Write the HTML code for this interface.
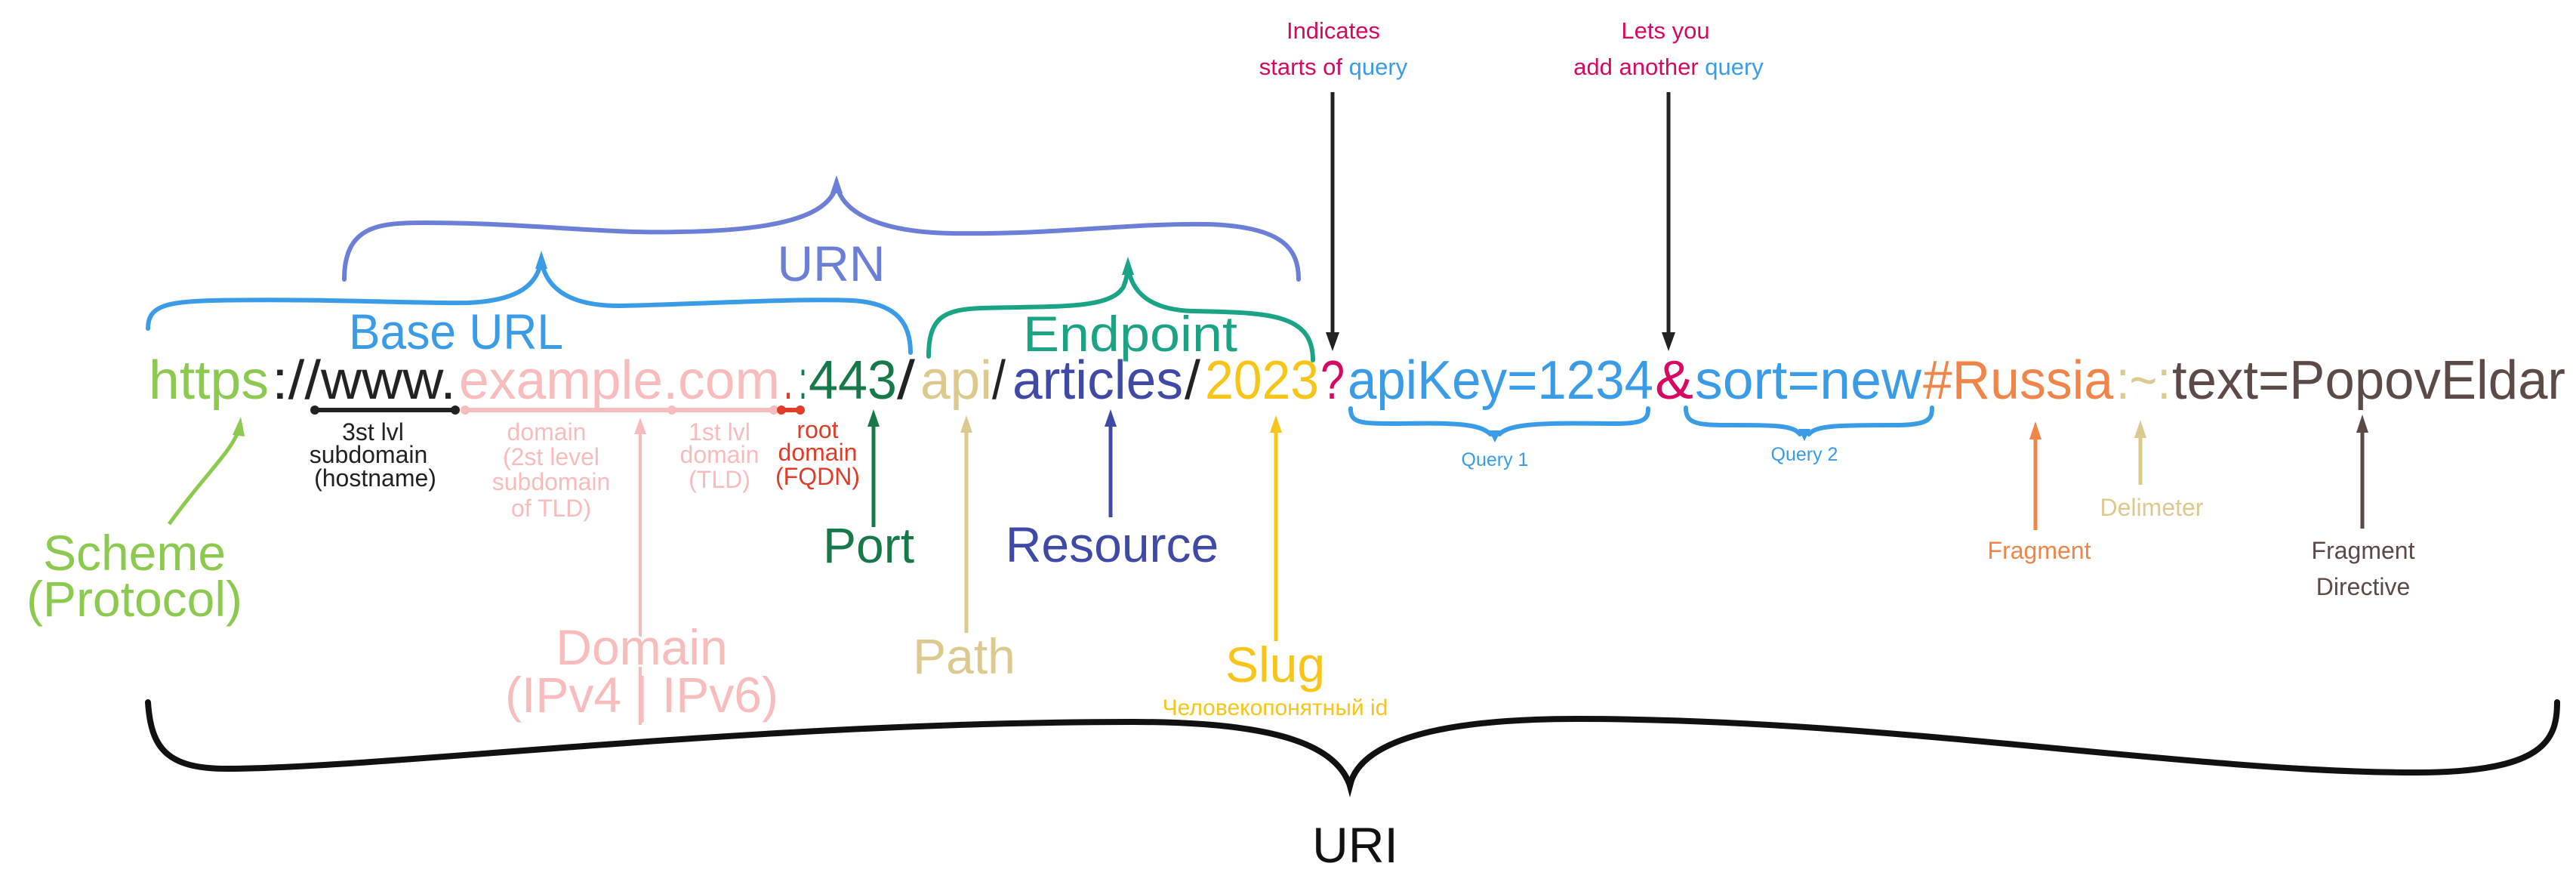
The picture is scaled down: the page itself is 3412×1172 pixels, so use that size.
<!DOCTYPE html>
<html><head><meta charset="utf-8"><style>
html,body{margin:0;padding:0;background:#fff;}
svg{display:block;}
text{font-family:"Liberation Sans","Noto Sans CJK SC",sans-serif;}
</style></head><body>
<svg width="3412" height="1172" viewBox="0 0 3412 1172" xmlns="http://www.w3.org/2000/svg">
<rect width="3412" height="1172" fill="#fff"/>

<!-- Main URL line -->
<g font-size="72" lengthAdjust="spacingAndGlyphs">
<text x="197" y="528" textLength="159" lengthAdjust="spacingAndGlyphs" fill="#8bc94f">https</text>
<text x="360" y="528" textLength="65" lengthAdjust="spacingAndGlyphs" fill="#222">://</text>
<text x="425" y="528" textLength="179" lengthAdjust="spacingAndGlyphs" fill="#222">www.</text>
<text x="608" y="528" textLength="425" lengthAdjust="spacingAndGlyphs" fill="#f8bcbc">example.com</text>
<text x="1038" y="528" textLength="12" lengthAdjust="spacingAndGlyphs" fill="#e03c28">.</text>
<text x="1058" y="528" textLength="11" lengthAdjust="spacingAndGlyphs" fill="#17794a">:</text>
<text x="1071" y="528" textLength="117" lengthAdjust="spacingAndGlyphs" fill="#17794a">443</text>
<text x="1188" y="528" textLength="24" lengthAdjust="spacingAndGlyphs" fill="#222">/</text>
<text x="1219" y="528" textLength="95" lengthAdjust="spacingAndGlyphs" fill="#ddc88e">api</text>
<text x="1314" y="528" textLength="18" lengthAdjust="spacingAndGlyphs" fill="#222">/</text>
<text x="1341" y="528" textLength="226" lengthAdjust="spacingAndGlyphs" fill="#3f4aa6">articles</text>
<text x="1569" y="528" textLength="21" lengthAdjust="spacingAndGlyphs" fill="#222">/</text>
<text x="1596" y="528" textLength="151" lengthAdjust="spacingAndGlyphs" fill="#f7c518">2023</text>
<text x="1749" y="528" textLength="32" lengthAdjust="spacingAndGlyphs" fill="#d6085f">?</text>
<text x="1785" y="528" textLength="405" lengthAdjust="spacingAndGlyphs" fill="#3a9ce6">apiKey=1234</text>
<text x="2192" y="528" textLength="51" lengthAdjust="spacingAndGlyphs" fill="#d6085f">&amp;</text>
<text x="2245" y="528" textLength="300" lengthAdjust="spacingAndGlyphs" fill="#3a9ce6">sort=new</text>
<text x="2547" y="528" textLength="252" lengthAdjust="spacingAndGlyphs" fill="#ef8548">#Russia</text>
<text x="2803" y="528" textLength="72" lengthAdjust="spacingAndGlyphs" fill="#ddc88e">:~:</text>
<text x="2877" y="528" textLength="521" lengthAdjust="spacingAndGlyphs" fill="#5c4a47">text=PopovEldar</text>
</g>

<!-- URN brace -->
<g fill="none" stroke="#6b7fd7" stroke-width="6" stroke-linecap="round">
<path d="M456 370 C456 300 500 295 560 295 C700 295 800 310 900 307 C1050 305 1100 280 1108 245 C1116 280 1160 307 1260 309 C1400 311 1500 295 1600 297 C1700 300 1720 330 1720 370"/>
</g>
<polygon points="1108,232 1100,256 1116,256" fill="#6b7fd7"/>
<text x="1101" y="372" font-size="66" fill="#6b7fd7" text-anchor="middle">URN</text>

<!-- Base URL brace -->
<g fill="none" stroke="#3a9ce6" stroke-width="6" stroke-linecap="round">
<path d="M196 435 C196 405 220 400 280 398 C420 395 550 402 620 401 C690 398 712 375 717 345 C722 375 745 405 820 405 C950 402 1050 395 1130 398 C1190 402 1206 430 1206 467"/>
</g>
<polygon points="717,332 709,356 725,356" fill="#3a9ce6"/>
<text x="604" y="462" font-size="66" fill="#3a9ce6" text-anchor="middle" textLength="284" lengthAdjust="spacingAndGlyphs">Base URL</text>

<!-- Endpoint brace -->
<g fill="none" stroke="#1aa385" stroke-width="6" stroke-linecap="round">
<path d="M1230 472 C1230 420 1250 410 1300 408 C1400 405 1470 410 1488 380 C1492 370 1494 360 1494 350 C1496 375 1510 410 1580 412 C1680 414 1739 415 1739 477"/>
</g>
<polygon points="1494,340 1486,364 1502,364" fill="#1aa385"/>
<text x="1497" y="465" font-size="66" fill="#1aa385" text-anchor="middle" textLength="284" lengthAdjust="spacingAndGlyphs">Endpoint</text>

<!-- Top query labels + arrows -->
<g font-size="31" text-anchor="middle">
<text x="1766" y="51" fill="#d6085f">Indicates</text>
<text x="1766" y="99"><tspan fill="#d6085f">starts of </tspan><tspan fill="#3a9ce6">query</tspan></text>
<text x="2206" y="51" fill="#d6085f">Lets you</text>
<text x="2210" y="99"><tspan fill="#d6085f">add another </tspan><tspan fill="#3a9ce6">query</tspan></text>
</g>
<line x1="1765" y1="122" x2="1765" y2="445" stroke="#222" stroke-width="5"/>
<polygon points="1765,465 1756,440 1774,440" fill="#222"/>
<line x1="2210" y1="122" x2="2210" y2="445" stroke="#222" stroke-width="5"/>
<polygon points="2210,465 2201,440 2219,440" fill="#222"/>

<!-- Domain underlines -->
<line x1="417" y1="543" x2="603" y2="543" stroke="#222" stroke-width="6"/>
<circle cx="417" cy="543" r="6" fill="#222"/><circle cx="603" cy="543" r="6" fill="#222"/>
<line x1="616" y1="543" x2="1025" y2="543" stroke="#f8bcbc" stroke-width="6"/>
<circle cx="616" cy="543" r="6" fill="#f8bcbc"/><circle cx="890" cy="543" r="6" fill="#f8bcbc"/><circle cx="1025" cy="543" r="6" fill="#f8bcbc"/>
<line x1="1035" y1="543" x2="1060" y2="543" stroke="#e03c28" stroke-width="6"/>
<circle cx="1035" cy="543" r="6" fill="#e03c28"/><circle cx="1060" cy="543" r="6" fill="#e03c28"/>

<g font-size="32" text-anchor="middle">
<text x="494" y="583" fill="#222">3st lvl</text>
<text x="488" y="613" fill="#222">subdomain</text>
<text x="497" y="644" fill="#222">(hostname)</text>
<text x="724" y="583" fill="#f8bcbc">domain</text>
<text x="730" y="616" fill="#f8bcbc">(2st level</text>
<text x="730" y="649" fill="#f8bcbc">subdomain</text>
<text x="730" y="684" fill="#f8bcbc">of TLD)</text>
<text x="953" y="583" fill="#f8bcbc">1st lvl</text>
<text x="953" y="613" fill="#f8bcbc">domain</text>
<text x="953" y="646" fill="#f8bcbc">(TLD)</text>
<text x="1083" y="580" fill="#e03c28">root</text>
<text x="1083" y="610" fill="#e03c28">domain</text>
<text x="1083" y="642" fill="#e03c28">(FQDN)</text>
</g>

<!-- Scheme -->
<path d="M224 694 C270 630 305 600 316 570" fill="none" stroke="#8bc94f" stroke-width="5"/>
<polygon points="319,552 308,576 324,578" fill="#8bc94f"/>
<g font-size="66" text-anchor="middle" fill="#8bc94f">
<text x="178" y="755">Scheme</text>
<text x="178" y="816">(Protocol)</text>
</g>

<!-- Domain -->
<line x1="848" y1="570" x2="848" y2="960" stroke="#f8bcbc" stroke-width="4"/>
<polygon points="848,553 840,575 856,575" fill="#f8bcbc"/>
<g font-size="66" text-anchor="middle" fill="#f8bcbc">
<text x="850" y="880" stroke="#fff" stroke-width="6" paint-order="stroke">Domain</text>
<text x="850" y="943">(IPv4 | IPv6)</text>
</g>

<!-- Port -->
<line x1="1157" y1="560" x2="1157" y2="698" stroke="#17794a" stroke-width="5"/>
<polygon points="1157,542 1149,565 1165,565" fill="#17794a"/>
<text x="1090" y="745" font-size="66" fill="#17794a">Port</text>

<!-- Path -->
<line x1="1280" y1="568" x2="1280" y2="838" stroke="#ddc88e" stroke-width="5"/>
<polygon points="1280,550 1272,573 1288,573" fill="#ddc88e"/>
<text x="1277" y="892" font-size="66" fill="#ddc88e" text-anchor="middle">Path</text>

<!-- Resource -->
<line x1="1471" y1="560" x2="1471" y2="685" stroke="#3f4aa6" stroke-width="5"/>
<polygon points="1471,542 1463,565 1479,565" fill="#3f4aa6"/>
<text x="1473" y="744" font-size="66" fill="#3f4aa6" text-anchor="middle">Resource</text>

<!-- Slug -->
<line x1="1690" y1="568" x2="1690" y2="849" stroke="#f7c518" stroke-width="5"/>
<polygon points="1690,550 1682,573 1698,573" fill="#f7c518"/>
<text x="1689" y="903" font-size="66" fill="#f7c518" text-anchor="middle">Slug</text>
<text x="1689" y="947" font-size="30" fill="#f7c518" text-anchor="middle">Человекопонятный id</text>

<!-- Query braces -->
<g fill="none" stroke="#3a9ce6" stroke-width="6" stroke-linecap="round">
<path d="M1789 541 C1789 560 1800 561 1850 561 C1920 560 1960 560 1974 575 M1986 575 C2000 560 2050 560 2140 561 C2178 561 2183 555 2183 541"/>
<path d="M2233 540 C2233 560 2245 563 2290 563 C2350 563 2375 563 2384 575 M2396 575 C2405 563 2440 563 2510 563 C2555 563 2559 555 2559 540"/>
</g>
<polygon points="1972,570 1988,570 1980,586" fill="#3a9ce6"/>
<polygon points="2382,568 2398,568 2390,584" fill="#3a9ce6"/>
<text x="1980" y="617" font-size="25" fill="#3a9ce6" text-anchor="middle">Query 1</text>
<text x="2390" y="610" font-size="25" fill="#3a9ce6" text-anchor="middle">Query 2</text>

<!-- Fragment -->
<line x1="2696" y1="578" x2="2696" y2="702" stroke="#ef8548" stroke-width="5"/>
<polygon points="2696,558 2688,582 2704,582" fill="#ef8548"/>
<text x="2701" y="740" font-size="32" fill="#ef8548" text-anchor="middle">Fragment</text>
<!-- Delimeter -->
<line x1="2835" y1="575" x2="2835" y2="642" stroke="#ddc88e" stroke-width="5"/>
<polygon points="2835,556 2827,580 2843,580" fill="#ddc88e"/>
<text x="2850" y="683" font-size="32" fill="#ddc88e" text-anchor="middle">Delimeter</text>
<!-- Fragment Directive -->
<line x1="3129" y1="568" x2="3129" y2="700" stroke="#5c4a47" stroke-width="5"/>
<polygon points="3129,549 3121,573 3137,573" fill="#5c4a47"/>
<text x="3130" y="740" font-size="32" fill="#5c4a47" text-anchor="middle">Fragment</text>
<text x="3130" y="788" font-size="32" fill="#5c4a47" text-anchor="middle">Directive</text>

<!-- URI brace -->
<g fill="none" stroke="#111" stroke-linecap="round">
<path d="M196 930 C200 990 220 1018 300 1018 C500 1018 1000 956 1500 956 C1700 956 1770 990 1788 1040" stroke-width="8"/>
<path d="M1788 1040 C1800 990 1880 952 2088 952 C2500 952 2900 1023 3200 1023 C3370 1023 3387 980 3387 930" stroke-width="8"/>
</g>
<polygon points="1788,1056 1781,1030 1795,1030" fill="#111"/>
<text x="1795" y="1142" font-size="66" fill="#111" text-anchor="middle">URI</text>
</svg>
</body></html>
